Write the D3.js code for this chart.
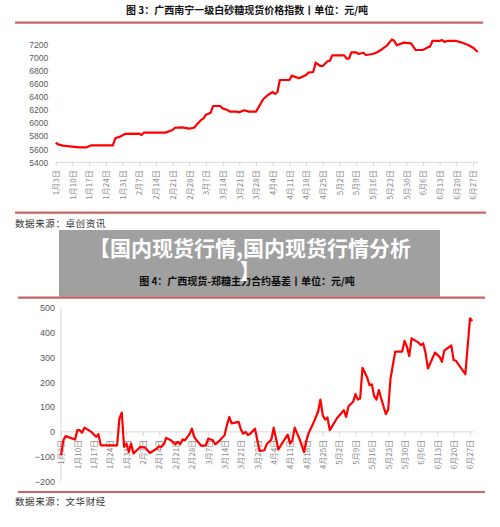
<!DOCTYPE html>
<html>
<head>
<meta charset="utf-8">
<script src="https://cdn.jsdelivr.net/npm/d3@7"></script>
<style>
body{margin:0;background:#fff;}
svg{display:block;font-family:"Liberation Sans","Noto Sans CJK SC",sans-serif;}
</style>
</head>
<body>
<svg id="canvas" width="500" height="527"></svg>
<script>
// 图3 广西南宁一级白砂糖现货价格指数
var priceDates = ['01-03','01-04','01-06','01-10','01-13','01-16','01-18','01-27','01-28','01-30','02-01','02-07','02-08','02-09','02-18','02-21','02-22','02-25','02-28','03-02','03-03','03-05','03-06','03-07','03-09','03-10','03-13','03-14','03-16','03-17','03-20','03-21','03-23','03-25','03-28','03-31','04-02','04-04','04-05','04-06','04-07','04-11','04-12','04-15','04-18','04-19','04-21','04-22','04-24','04-25','04-27','04-28','04-29','05-04','05-05','05-06','05-07','05-09','05-10','05-12','05-13','05-16','05-18','05-20','05-22','05-24','05-25','05-26','05-29','06-01','06-03','06-06','06-08','06-09','06-10','06-13','06-14','06-15','06-16','06-20','06-22','06-25','06-27','06-29'];
var priceValues = [5700,5676,5656,5640,5630,5630,5660,5660,5768,5794,5835,5840,5820,5855,5855,5896,5930,5937,5916,5930,5973,6050,6075,6131,6162,6264,6264,6228,6203,6177,6177,6167,6198,6177,6177,6367,6433,6479,6448,6479,6663,6663,6730,6689,6740,6776,6786,6929,6878,6878,6950,6960,7042,7042,6990,6990,7088,7088,7062,7082,7047,7062,7093,7139,7195,7287,7262,7195,7236,7226,7123,7123,7164,7175,7262,7262,7277,7247,7262,7262,7241,7200,7159,7093];
// 图4 广西现货-郑糖主力合约基差
var basisDates = ['01-03','01-04','01-05','01-09','01-10','01-11','01-12','01-13','01-16','01-18','01-19','01-20','01-27','01-28','01-29','01-30','01-31','02-01','02-02','02-03','02-06','02-08','02-10','02-13','02-14','02-15','02-16','02-17','02-19','02-21','02-22','02-23','02-24','02-25','02-27','02-28','03-01','03-02','03-04','03-06','03-07','03-09','03-10','03-12','03-14','03-15','03-16','03-17','03-20','03-21','03-22','03-23','03-24','03-25','03-27','03-28','03-29','03-31','04-01','04-03','04-04','04-06','04-08','04-10','04-11','04-12','04-13','04-15','04-17','04-18','04-19','04-21','04-23','04-24','04-25','04-26','04-27','04-28','05-01','05-04','05-05','05-06','05-08','05-09','05-10','05-11','05-12','05-14','05-15','05-16','05-17','05-18','05-19','05-20','05-22','05-23','05-24','05-26','05-29','05-30','05-31','06-01','06-02','06-05','06-06','06-07','06-08','06-09','06-12','06-14','06-15','06-16','06-19','06-20','06-21','06-25','06-27','06-28'];
var basisValues = [-94,-34,-17,-31,7,7,-3,17,0,-20,-9,-54,-54,54,77,-60,-47,-81,-47,-87,-60,-63,-85,-67,-58,-60,-50,-24,-34,-50,-40,-50,-31,-34,-9,13,-20,-34,-56,-54,-27,-34,-50,-34,-13,27,60,34,40,9,-7,0,-13,-7,13,-34,-77,-74,-50,-31,17,-71,-40,-11,-47,-34,17,-27,-81,-34,-4,36,81,130,67,50,58,7,54,87,60,103,121,152,130,134,258,219,188,191,144,130,168,134,71,90,215,323,323,366,343,305,376,359,349,356,316,255,319,302,282,327,348,289,286,232,457,446];
// 刻度
var weekTicks = ['01-03','01-10','01-17','01-24','01-31','02-07','02-14','02-21','02-28','03-07','03-14','03-21','03-28','04-04','04-11','04-18','04-25','05-02','05-09','05-16','05-23','05-30','06-06','06-13','06-20','06-27'];
var priceTicks = [5400,5600,5800,6000,6200,6400,6600,6800,7000,7200];
var basisTicks = [-200,-100,0,100,200,300,400,500];

var parse = function (s) { return d3.timeParse('%Y-%m-%d')('2022-' + s); };
var fmtDay = function (d) { return (d.getMonth() + 1) + '月' + d.getDate() + '日'; };
var svg = d3.select('#canvas');
var sepColor = '#c96464';

svg.append('rect').attr('width', 500).attr('height', 527).attr('fill', '#fff');

function hline(y, x1, x2) {
    svg.append('line').attr('x1', x1).attr('x2', x2).attr('y1', y).attr('y2', y)
        .attr('stroke', sepColor).attr('stroke-width', 2.2);
}
function title(y, txt) {
    svg.append('text').attr('x', 247).attr('y', y).attr('text-anchor', 'middle')
        .attr('dy', '0.35em').attr('font-size', 10).attr('font-weight', 'bold')
        .attr('font-family', '"Noto Sans CJK SC",sans-serif').attr('fill', '#111').text(txt);
}
function source(y, txt) {
    svg.append('text').attr('x', 15).attr('y', y).attr('dy', '0.35em')
        .attr('font-size', 9.5).attr('font-family', '"Noto Sans CJK SC",sans-serif')
        .attr('fill', '#333').attr('letter-spacing', 0.6).text(txt);
}

//画一个图
function drawChart(opt) {
    var dates = opt.dates.map(parse);
    var x = d3.scaleTime().domain([parse('01-03'), parse('06-27')]).range(opt.xr);
    var y = d3.scaleLinear().domain(opt.yd).range(opt.yr);
    var g = svg.append('g');

    // y轴标签
    var ya = g.append('g').attr('transform', 'translate(' + opt.xr[0] + ',0)')
        .call(d3.axisLeft(y).tickValues(opt.yTicks).tickSize(0).tickPadding(opt.yPad).tickFormat(d3.format('d')));
    ya.selectAll('text').attr('font-size', opt.yFont).attr('fill', '#595959')
        .attr('font-family', '"Liberation Sans",sans-serif');
    if (opt.yLine) {
        ya.select('.domain').attr('stroke', '#d9d9d9').attr('d', 'M0,' + opt.yr[0] + 'V' + opt.yr[1]);
    } else {
        ya.select('.domain').remove();
    }

    // x轴
    var x0 = y(opt.xAt);
    var xa = g.append('g').attr('transform', 'translate(0,' + x0 + ')')
        .call(d3.axisBottom(x).tickValues(weekTicks.map(parse)).tickSize(4).tickFormat(fmtDay));
    xa.select('.domain').remove();
    xa.selectAll('line').attr('stroke', '#d9d9d9');
    xa.selectAll('text')
        .attr('transform', 'rotate(-90)')
        .attr('text-anchor', 'end')
        .attr('x', -8).attr('y', 0).attr('dy', '0.35em')
        .attr('font-size', 8).attr('fill', '#8a8a8a')
        .attr('font-family', '"Noto Sans CJK SC",sans-serif');
    g.append('line').attr('x1', opt.xr[0]).attr('x2', opt.xEnd).attr('y1', x0).attr('y2', x0)
        .attr('stroke', '#d9d9d9');

    var line = d3.line()
        .x(function (d, i) { return x(dates[i]); })
        .y(function (d) { return y(d); });
    g.append('path').datum(opt.values)
        .attr('d', line)
        .attr('fill', 'none')
        .attr('stroke', '#ff0000')
        .attr('stroke-width', 2.2)
        .attr('stroke-linejoin', 'round');
}

title(10, '图 3：广西南宁一级白砂糖现货价格指数丨单位：元/吨');
hline(22.7, 15, 483);
drawChart({
    dates: priceDates, values: priceValues,
    xr: [55.7, 473], xEnd: 478,
    yd: [5400, 7200], yr: [162.3, 45], yTicks: priceTicks,
    yPad: 7.5, yFont: 8.5, yLine: false, xAt: 5400
});
hline(212.6, 15, 486);
source(224, '数据来源：卓创资讯');

title(281.5, '图 4：广西现货-郑糖主力合约基差丨单位：元/吨');
hline(297.6, 18, 485);
drawChart({
    dates: basisDates, values: basisValues,
    xr: [61, 470], xEnd: 474,
    yd: [-200, 500], yr: [481.6, 307.6], yTicks: basisTicks,
    yPad: 6, yFont: 9, yLine: true, xAt: 0
});
hline(492, 18, 485);
source(502, '数据来源：文华财经');

// 灰色浮层标题
svg.append('rect').attr('x', 59).attr('y', 230).attr('width', 381).attr('height', 66.5)
    .attr('fill', 'rgba(0,0,0,0.373)');
var ov = svg.append('text').attr('text-anchor', 'middle').attr('fill', '#fff')
    .attr('font-size', 21).attr('font-weight', 'bold')
    .attr('font-family', '"Noto Sans CJK SC",sans-serif');
ov.append('tspan').attr('x', 250).attr('y', 255.5).text('【国内现货行情,国内现货行情分析');
ov.append('tspan').attr('x', 250).attr('y', 279).text('】');
</script>
</body>
</html>
